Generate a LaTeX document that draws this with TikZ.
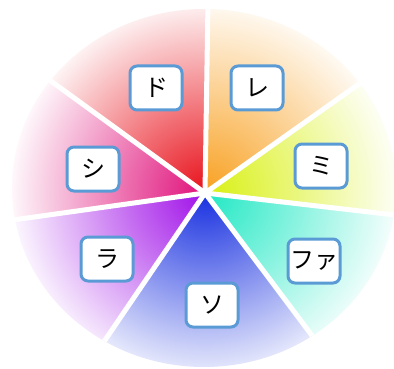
\documentclass[tikz,border=0pt]{standalone}
\usepackage{fontspec}
\newfontfamily\jpfont{Noto Sans CJK JP}
\usetikzlibrary{calc}

\definecolor{doRed}{HTML}{E8101A}
\definecolor{reOrange}{HTML}{F8A020}
\definecolor{miYellow}{HTML}{D8F010}
\definecolor{faTeal}{HTML}{20E8C4}
\definecolor{soBlue}{HTML}{1830E0}
\definecolor{laViolet}{HTML}{A010E8}
\definecolor{siPink}{HTML}{E0107A}
\definecolor{boxBlue}{HTML}{5B9BD5}

\tikzset{
  tone/.style={draw=boxBlue, line width=3pt, fill=white, rounded corners=7pt,
    minimum width=52pt, minimum height=44pt, inner sep=0pt,
    font=\jpfont\fontsize{24}{24}\selectfont},
  gap/.style={white, line width=5pt}
}

\begin{document}
\begin{tikzpicture}[x=1pt, y=-1pt]
    \useasboundingbox (0,0) rectangle (394,369);
    \fill[white] (0,0) rectangle (394,369);

    % Kozeppont
    \coordinate (c) at (205,193);

    % Szeletek szinatmenettel
    \begin{scope}
        \clip (204,188) ellipse [x radius=192, y radius=179];
        \foreach \a/\b/\col in {-89.1/-35.3/reOrange, -35.3/6.6/miYellow,
            6.6/53.1/faTeal, 53.1/124.2/soBlue, 124.2/172/laViolet,
            172/216/siPink, 216/270.9/doRed}{
            \begin{scope}
                \clip (c) -- ++(\a:300) arc[start angle=\a, end angle=\b, radius=300] -- cycle;
                \shade[inner color=\col, outer color=white] (c) circle (200);
            \end{scope}
        }

        % Elvalaszto vonalak
        \foreach \a in {-89.1, -35.3, 6.6, 53.1, 124.2, 172, 216}
            \draw[gap] (c) -- ++(\a:300);
    \end{scope}

    % Hangok
    \node[tone] (do) at (156,88) {ド};
    \node[tone] (re) at (257,88) {レ};
    \node[tone] (mi) at (321,166) {ミ};
    \node[tone] (fa) at (314,261) {ファ};
    \node[tone] (so) at (212,305) {ソ};
    \node[tone] (la) at (107,259) {ラ};
    \node[tone] (si) at (93,169) {シ};

\end{tikzpicture}
\end{document}
